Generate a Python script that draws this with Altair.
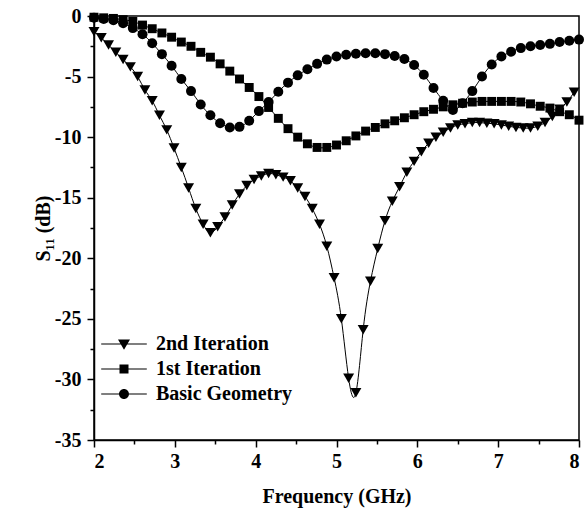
import altair as alt
import pandas as pd

# Sample grids (GHz)
tri_freq = [round(2.0 + 0.09 * i, 2) for i in range(67)]
sq_freq = [round(2.0 + 0.12 * i, 2) for i in range(51)]
circ_freq = [round(2.0 + 0.12 * i, 2) for i in range(51)]

# S11 (dB) of each design stage
tri_s11 = [
    -1.3, -1.8, -2.4, -3.0, -3.6, -4.2, -5.0, -6.1, -7.0, -8.2,
    -9.4, -10.9, -12.5, -14.2, -15.9, -17.2, -17.9, -17.4, -16.6, -15.6,
    -14.7, -14.0, -13.5, -13.2, -13.0, -13.1, -13.3, -13.6, -14.2, -14.9,
    -15.9, -17.2, -19.0, -21.6, -25.0, -29.9, -31.1, -25.9, -21.9, -19.2,
    -16.9, -15.3, -14.1, -12.9, -12.0, -11.2, -10.5, -10.0, -9.6, -9.25,
    -9.0, -8.9, -8.8, -8.8, -8.85, -8.9, -9.0, -9.1, -9.2, -9.25,
    -9.25, -9.1, -8.8, -8.3, -7.7, -7.1, -6.3,
]
sq_s11 = [
    -0.1, -0.15, -0.2, -0.3, -0.45, -0.75, -1.05, -1.4, -1.75, -2.15,
    -2.5, -3.0, -3.4, -3.95, -4.55, -5.2, -5.9, -6.65, -7.55, -8.45,
    -9.3, -10.0, -10.55, -10.85, -10.85, -10.65, -10.3, -9.9, -9.5, -9.2,
    -8.9, -8.65, -8.4, -8.15, -7.9, -7.7, -7.5, -7.33, -7.2, -7.1,
    -7.05, -7.05, -7.05, -7.05, -7.1, -7.25, -7.45, -7.6, -7.9, -8.15,
    -8.6,
]
circ_s11 = [
    -0.15, -0.25, -0.35, -0.6, -1.0, -1.5, -2.25, -3.15, -4.1, -5.2,
    -6.2, -7.3, -8.2, -8.85, -9.2, -9.15, -8.65, -7.85, -7.1, -6.25,
    -5.5, -4.9, -4.4, -3.95, -3.6, -3.35, -3.2, -3.12, -3.07, -3.07,
    -3.15, -3.3, -3.55, -4.05, -4.85, -5.95, -7.0, -7.75, -7.2, -6.2,
    -5.0, -4.0, -3.35, -2.95, -2.65, -2.5, -2.4, -2.3, -2.15, -2.05,
    -1.95,
]

series_names = ["2nd Iteration", "1st Iteration", "Basic Geometry"]
marker_shapes = ["triangle-down", "square", "circle"]
marker_sizes = [120, 80, 100]
# legend keys: a thin bar (the line) with the marker on it, all filled
legend_paths = [
    "M-3.8,-0.08H3.8V0.08H-3.8ZM-1,-0.75H1L0,0.95Z",
    "M-3.8,-0.08H3.8V0.08H-3.8ZM-0.75,-0.75H0.75V0.75H-0.75Z",
    "M-3.8,-0.08H3.8V0.08H-3.8Z"
    "M-0.83,0A0.83,0.83,0,1,1,0.83,0A0.83,0.83,0,1,1,-0.83,0Z",
]

x_major = [2, 3, 4, 5, 6, 7, 8]
x_minor = [2.5, 3.5, 4.5, 5.5, 6.5, 7.5]
y_major = [0, -5, -10, -15, -20, -25, -30, -35]
y_minor = [-2.5, -7.5, -12.5, -17.5, -22.5, -27.5, -32.5]

frames = []
for name, fr, vals in [
    (series_names[0], tri_freq, tri_s11),
    (series_names[1], sq_freq, sq_s11),
    (series_names[2], circ_freq, circ_s11),
]:
    frames.append(pd.DataFrame({"freq": fr, "s11": vals, "series": name}))
df = pd.concat(frames, ignore_index=True)

FONT = "Liberation Serif"
FS = 20

x_scale = alt.Scale(domain=[2, 8], nice=False, zero=False)
y_scale = alt.Scale(domain=[-35, 0], nice=False, zero=False)

x_axis = alt.Axis(values=x_major, tickSize=7, labelPadding=4,
                  labelExpr="toString(datum.value)",
                  title="Frequency (GHz)", titlePadding=15)
y_axis = alt.Axis(values=y_major, tickSize=7, labelPadding=6,
                  labelExpr="toString(datum.value)",
                  title="S₁₁ (dB)", titlePadding=1)
x_minor_axis = alt.Axis(values=x_minor, tickSize=4, labels=False,
                        domain=False, title=None, orient="bottom")
y_minor_axis = alt.Axis(values=y_minor, tickSize=4, labels=False,
                        domain=False, title=None, orient="left")

lines = alt.Chart(df).mark_line(
    color="black", strokeWidth=1, interpolate="natural"
).encode(
    x=alt.X("freq:Q", scale=x_scale, axis=x_axis),
    y=alt.Y("s11:Q", scale=y_scale, axis=y_axis),
    detail="series:N",
)

# one marker layer per series
marker_layers = []
for name, shp, sz in zip(series_names, marker_shapes, marker_sizes):
    marker_layers.append(
        alt.Chart(df).transform_filter(alt.datum.series == name).mark_point(
            filled=True, color="black", opacity=1, shape=shp, size=sz
        ).encode(
            x=alt.X("freq:Q", scale=x_scale, axis=None),
            y=alt.Y("s11:Q", scale=y_scale, axis=None),
        )
    )

# carries the minor ticks and the legend
key = alt.Chart(df).transform_filter("false").mark_point(
    filled=True, color="black", opacity=1
).encode(
    x=alt.X("freq:Q", scale=x_scale, axis=x_minor_axis),
    y=alt.Y("s11:Q", scale=y_scale, axis=y_minor_axis),
    shape=alt.Shape(
        "series:N",
        scale=alt.Scale(domain=series_names, range=legend_paths),
        legend=alt.Legend(
            orient="none", legendX=17, legendY=318, title=None,
            symbolSize=144, symbolFillColor="black",
            symbolStrokeColor="black", symbolStrokeWidth=0,
            symbolOpacity=1, symbolOffset=3, labelOffset=22, rowPadding=5,
            padding=0,
        ),
    ),
)

chart = alt.layer(lines, *marker_layers, key).resolve_axis(
    x="independent", y="independent"
).properties(
    width=485, height=424,
    background="white",
    autosize=alt.AutoSizeParams(type="none"),
    padding={"left": 94, "top": 16, "right": 7, "bottom": 74},
).configure_axis(
    grid=False, domainColor="black", tickColor="black", labelColor="black",
    titleColor="black", labelFont=FONT, titleFont=FONT,
    labelFontSize=FS, titleFontSize=FS, labelFontWeight="bold",
    titleFontWeight="bold", domainWidth=1.5, tickWidth=1.5,
).configure_legend(
    labelFont=FONT, labelFontSize=FS, labelFontWeight="bold",
    labelColor="black",
).configure_view(
    stroke="black", strokeWidth=1.5
)

chart.save("out.html", embed_options={"renderer": "svg", "actions": False})
